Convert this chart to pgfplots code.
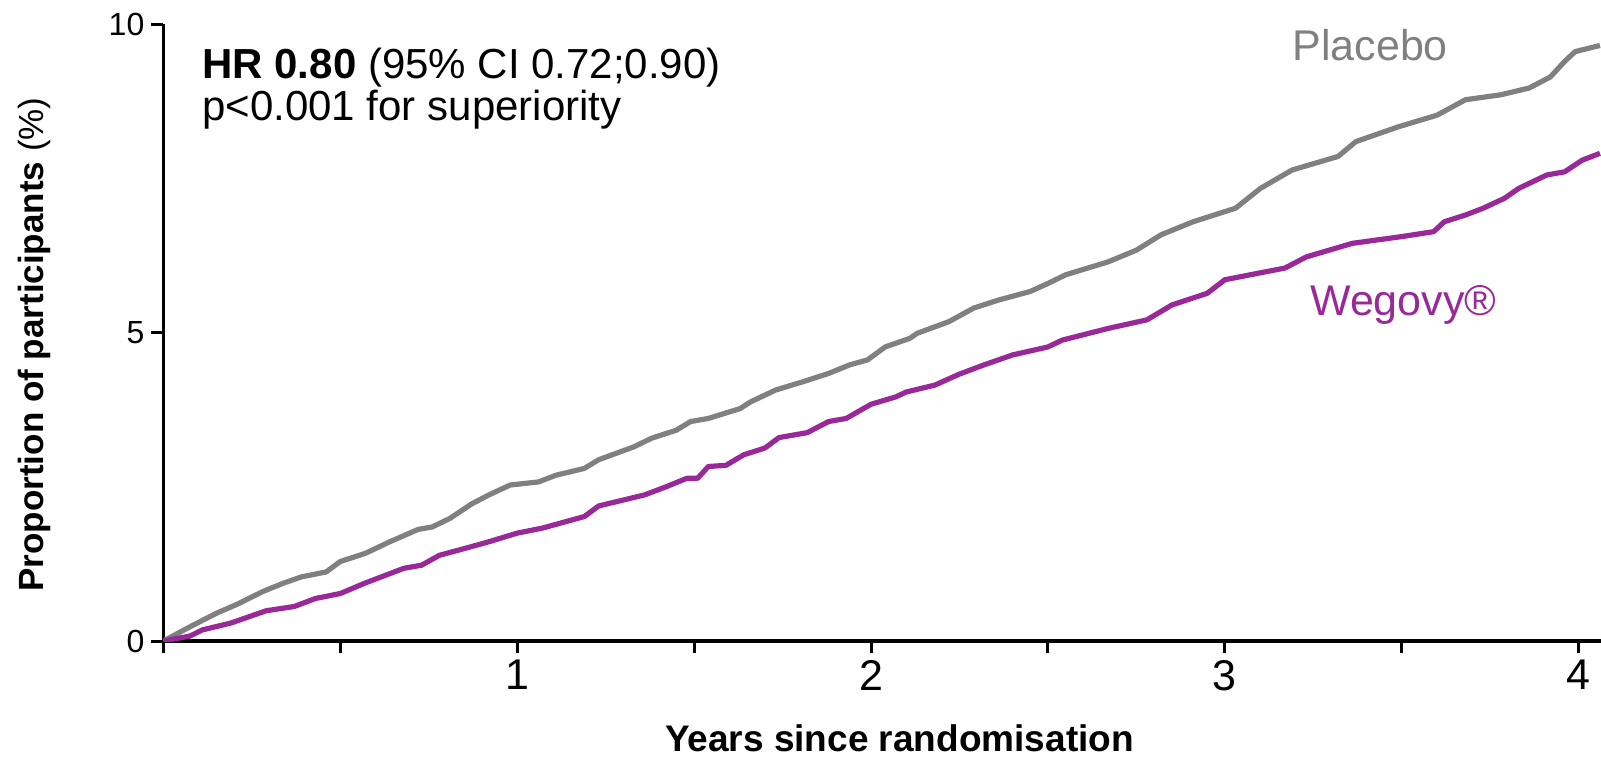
\documentclass[border=0pt]{standalone}
\usepackage{pgfplots}
\pgfplotsset{compat=1.18}
\usepackage{fontspec}
\setmainfont{Liberation Sans}
\definecolor{pgrey}{RGB}{128,128,128}
\definecolor{wpurple}{RGB}{153,41,153}

\pgfplotstableread{
x y
0 0
0.075 0.23
0.15 0.45
0.21 0.60
0.28 0.80
0.34 0.94
0.39 1.04
0.46 1.12
0.50 1.29
0.57 1.42
0.64 1.61
0.72 1.81
0.76 1.85
0.81 1.99
0.87 2.22
0.92 2.37
0.98 2.53
1.06 2.58
1.11 2.69
1.19 2.80
1.23 2.94
1.33 3.15
1.38 3.29
1.45 3.42
1.49 3.56
1.54 3.61
1.63 3.77
1.66 3.88
1.73 4.07
1.81 4.21
1.88 4.34
1.94 4.48
1.99 4.56
2.04 4.77
2.11 4.91
2.13 4.99
2.22 5.18
2.29 5.40
2.36 5.53
2.45 5.67
2.50 5.80
2.55 5.94
2.67 6.15
2.75 6.34
2.82 6.59
2.91 6.80
3.03 7.02
3.10 7.34
3.19 7.64
3.32 7.86
3.37 8.10
3.49 8.34
3.60 8.53
3.68 8.78
3.78 8.86
3.86 8.97
3.92 9.15
3.96 9.40
3.99 9.56
4.06 9.66
}\placebo

\pgfplotstableread{
x y
0 0
0.075 0.08
0.11 0.18
0.19 0.29
0.24 0.39
0.29 0.49
0.37 0.56
0.43 0.69
0.50 0.77
0.57 0.94
0.68 1.18
0.73 1.23
0.78 1.39
0.87 1.53
0.92 1.61
1.00 1.75
1.07 1.83
1.14 1.94
1.19 2.02
1.23 2.19
1.36 2.37
1.42 2.50
1.48 2.64
1.51 2.64
1.54 2.83
1.59 2.85
1.64 3.02
1.70 3.13
1.74 3.30
1.82 3.38
1.88 3.56
1.93 3.61
2.00 3.84
2.07 3.96
2.10 4.04
2.18 4.15
2.25 4.33
2.32 4.48
2.40 4.64
2.50 4.77
2.54 4.88
2.67 5.07
2.78 5.21
2.85 5.45
2.95 5.64
3.00 5.86
3.17 6.05
3.23 6.23
3.36 6.45
3.50 6.56
3.59 6.64
3.62 6.80
3.68 6.91
3.73 7.02
3.79 7.18
3.83 7.34
3.91 7.56
3.96 7.61
4.01 7.80
4.06 7.91
}\wegovy

\begin{document}
\begin{tikzpicture}
\begin{axis}[
  name=ax,
  scale only axis,
  width=718.8pt, height=308.25pt,
  xmin=0, xmax=4.063, ymin=0, ymax=10,
  axis x line=bottom, axis y line=left,
  axis line style={-, line width=1.6pt},
  xtick={0,0.5,1,1.5,2,2.5,3,3.5,4},
  xticklabels={,,1,,2,,3,,4},
  ytick={0,5,10},
  tick align=outside,
  major tick length=6pt,
  tick style={line width=1.5pt, black},
  /pgf/number format/assume math mode=true,
  x tick label style={font=\fontsize{21.5}{21.5}\selectfont},
  y tick label style={font=\fontsize{16}{16}\selectfont},
  xlabel={\textbf{Years since randomisation}},
  xlabel style={at={(rel axis cs:0.512,-0.18)}, anchor=base, font=\fontsize{18.5}{18.5}\selectfont},
  ylabel={\textbf{Proportion of participants} (\%)},
  ylabel style={at={(rel axis cs:-0.09,0.481)}, anchor=center, font=\fontsize{17.5}{17.5}\selectfont},
  clip=true,
]
\addplot[pgrey, line width=2.6pt, line join=round] table[x=x,y=y] {\placebo};
\addplot[wpurple, line width=2.6pt, line join=round] table[x=x,y=y] {\wegovy};
\node[anchor=base west, inner sep=0pt, font=\fontsize{21}{21}\selectfont] at (axis cs:0.109,9.116) {\textbf{HR 0.80} (95\% CI 0.72;0.90)};
\node[anchor=base west, inner sep=0pt, font=\fontsize{21}{21}\selectfont] at (axis cs:0.109,8.45) {p<0.001 for superiority};
\node[anchor=base west, inner sep=0pt, text=pgrey, font=\fontsize{21.5}{21.5}\selectfont] at (axis cs:3.19,9.41) {Placebo};
\node[anchor=base west, inner sep=0pt, text=wpurple, font=\fontsize{21.5}{21.5}\selectfont] at (axis cs:3.24,5.28) {Wegovy®};
\end{axis}
\pgfresetboundingbox
\path[use as bounding box] ([xshift=-81.7pt, yshift=-60pt]ax.south west) rectangle ([yshift=12.25pt]ax.north east);
\end{tikzpicture}
\end{document}
